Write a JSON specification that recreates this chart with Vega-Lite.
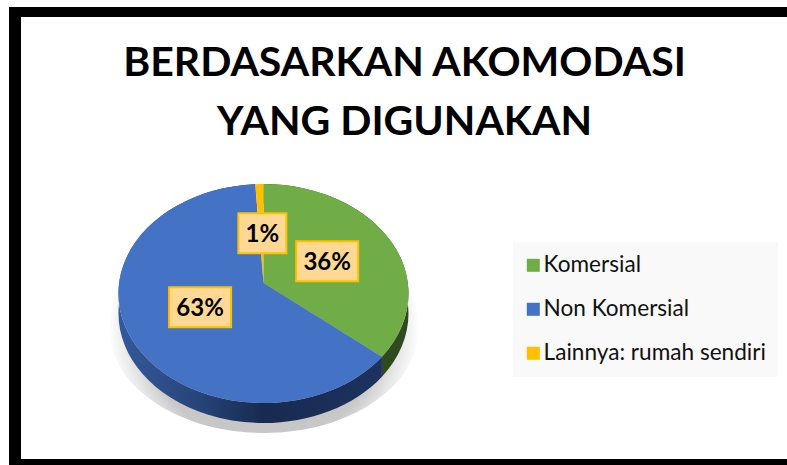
{
"$schema":"https://vega.github.io/schema/vega-lite/v6.json",
"width":787,"height":465,"padding":0,"autosize":{"type":"none"},"background":"white",
"config":{"view":{"stroke":null}},
"title":{"text":["BERDASARKAN AKOMODASI","YANG DIGUNAKAN"],"anchor":"middle","frame":"group","dx":11,"dy":180,"baseline":"alphabetic","lineHeight":59,"font":"Lato","fontSize":41,"fontWeight":"bold","color":"black"},
"data":{"values":[
{"kategori":"Komersial","nilai":36},
{"kategori":"Non Komersial","nilai":63},
{"kategori":"Lainnya: rumah sendiri","nilai":1}]},
"transform":[
{"stack":"nilai","groupby":[],"as":["s0","s1"]},
{"calculate":"2*PI*datum.s0/100","as":"a0"},
{"calculate":"2*PI*datum.s1/100","as":"a1"},
{"calculate":"(datum.a0+datum.a1)/2","as":"am"},
{"calculate":"round(100*144.3*sin(datum.a0)/(1+0.096*cos(datum.a0)))/100","as":"x0"},
{"calculate":"round(-100*108.5*cos(datum.a0)/(1+0.096*cos(datum.a0)))/100","as":"y0"},
{"calculate":"round(100*144.3*sin(datum.a1)/(1+0.096*cos(datum.a1)))/100","as":"x1"},
{"calculate":"round(-100*108.5*cos(datum.a1)/(1+0.096*cos(datum.a1)))/100","as":"y1"},
{"calculate":"datum.nilai>50?1:0","as":"big"},
{"calculate":"'M0 0L'+datum.x0+' '+datum.y0+'A145 109.5 0 '+datum.big+' 1 '+datum.x1+' '+datum.y1+'Z'","as":"face"},
{"calculate":"'M'+datum.x0+' '+datum.y0+'A145 109.5 0 '+datum.big+' 1 '+datum.x1+' '+datum.y1+'L'+datum.x1+' '+(datum.y1+20)+'A145 109.5 0 '+datum.big+' 0 '+datum.x0+' '+(datum.y0+20)+'Z'","as":"wall"},
{"calculate":"264.5+144.3*0.49*sin(datum.am)/(1+0.048*cos(datum.am))","as":"lx"},
{"calculate":"283-108.5*0.48*cos(datum.am)/(1+0.048*cos(datum.am))","as":"ly"},
{"calculate":"datum.nilai+'%'","as":"label"},
{"calculate":"datum.nilai<10?'M-24 -20H24V20H-24Z':'M-31 -20H31V20H-31Z'","as":"box"}
],
"layer":[
{"data":{"values":[{"k":"bayangan"}]},
 "mark":{"type":"point","filled":true,"opacity":1,"size":4,"shape":"M-155 0A155 105 0 1 1 155 0A155 105 0 1 1 -155 0Z",
  "fill":{"gradient":"radial","x1":0.5,"y1":0.5,"r1":0,"x2":0.5,"y2":0.5,"r2":0.5,"stops":[{"offset":0,"color":"#bdbdbd"},{"offset":0.75,"color":"#c8c8c8"},{"offset":0.88,"color":"#e6e6e6"},{"offset":1,"color":"#ffffff"}]}},
 "encoding":{"x":{"datum":264,"type":"quantitative","scale":{"domain":[0,787],"nice":false},"axis":null},"y":{"datum":328,"type":"quantitative","scale":{"domain":[0,465],"nice":false,"reverse":true},"axis":null}}},
{"transform":[{"filter":"datum.kategori=='Non Komersial'"}],
 "mark":{"type":"point","filled":true,"opacity":1,"size":4,
  "fill":{"gradient":"linear","x1":0,"y1":0,"x2":1,"y2":0,"stops":[{"offset":0,"color":"#34599b"},{"offset":0.3,"color":"#274579"},{"offset":0.55,"color":"#182a50"},{"offset":1,"color":"#1d3260"}]}},
 "encoding":{"x":{"datum":263.5,"type":"quantitative","axis":null},"y":{"datum":283,"type":"quantitative","axis":null},"shape":{"field":"wall","type":"nominal","scale":null,"legend":null}}},
{"transform":[{"filter":"datum.kategori=='Komersial'"}],
 "mark":{"type":"point","filled":true,"opacity":1,"size":4,"fill":"#2f4a1e"},
 "encoding":{"x":{"datum":263.5,"type":"quantitative","axis":null},"y":{"datum":283,"type":"quantitative","axis":null},"shape":{"field":"wall","type":"nominal","scale":null,"legend":null}}},
{"mark":{"type":"point","filled":true,"opacity":1,"size":4},
 "encoding":{"x":{"datum":263.5,"type":"quantitative","axis":null},"y":{"datum":283,"type":"quantitative","axis":null},
  "shape":{"field":"face","type":"nominal","scale":null,"legend":null},
  "color":{"field":"kategori","type":"nominal","scale":{"domain":["Komersial","Non Komersial","Lainnya: rumah sendiri"],"range":["#70ad47","#4472c4","#ffc000"]},
   "legend":{"title":null,"orient":"none","legendX":513,"legendY":242,"fillColor":"#f9f9f9","padding":12,"symbolType":"square","symbolSize":169,"symbolStrokeWidth":0,"symbolOpacity":1,"symbolOffset":-3,"labelFont":"Lato","labelFontSize":22.6,"labelColor":"#111111","labelOffset":-1,"rowPadding":21,"labelLimit":300}}}},
{"mark":{"type":"point","filled":true,"opacity":1,"size":4,"fill":"#ffd994","stroke":"#ffc000","strokeWidth":2},
 "encoding":{"x":{"field":"lx","type":"quantitative","axis":null},"y":{"field":"ly","type":"quantitative","axis":null},"shape":{"field":"box","type":"nominal","scale":null,"legend":null}}},
{"mark":{"type":"text","font":"Lato","fontSize":24,"fontWeight":"bold","color":"black","align":"center","baseline":"middle","dy":2},
 "encoding":{"x":{"field":"lx","type":"quantitative","axis":null},"y":{"field":"ly","type":"quantitative","axis":null},"text":{"field":"label"}}},
{"data":{"values":[{"sisi":"kiri"}]},"mark":{"type":"rule","color":"black","strokeWidth":12},
 "encoding":{"x":{"datum":15,"type":"quantitative","axis":null},"y":{"datum":7,"type":"quantitative","axis":null},"y2":{"datum":465}}},
{"data":{"values":[{"sisi":"atas"}]},"mark":{"type":"rule","color":"black","strokeWidth":10},
 "encoding":{"y":{"datum":12,"type":"quantitative","axis":null},"x":{"datum":9,"type":"quantitative","axis":null},"x2":{"datum":787}}},
{"data":{"values":[{"sisi":"bawah"}]},"mark":{"type":"rule","color":"black","strokeWidth":8},
 "encoding":{"y":{"datum":463,"type":"quantitative","axis":null},"x":{"datum":9,"type":"quantitative","axis":null},"x2":{"datum":787}}}
]}
